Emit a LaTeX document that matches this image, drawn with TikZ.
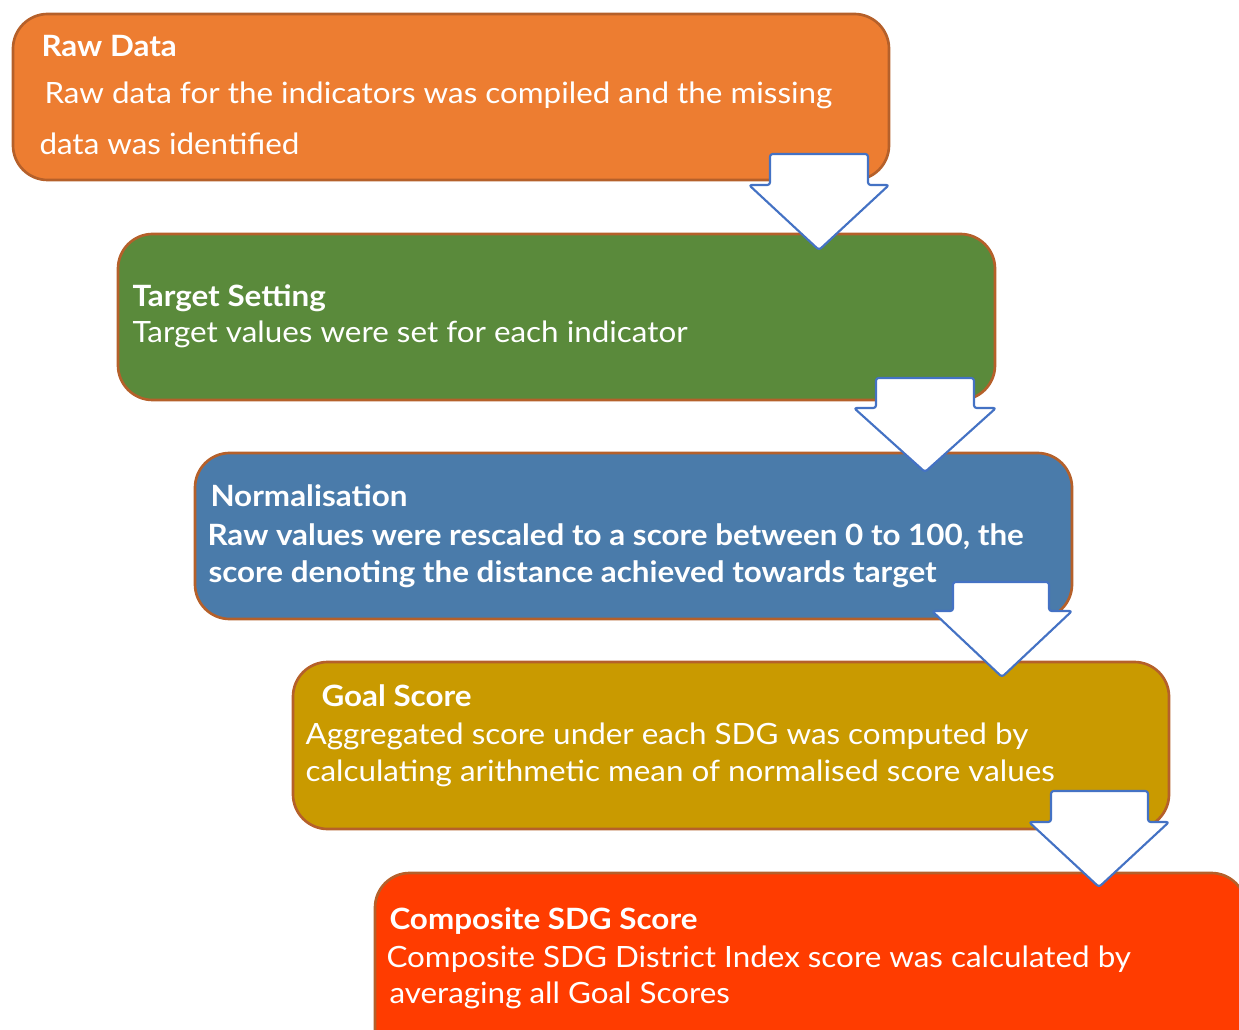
\documentclass[tikz,border=0pt]{standalone}
\usepackage{fontspec}
\setmainfont[FakeStretch=1.07]{Lato}

\definecolor{rawfill}{HTML}{ED7D31}
\definecolor{targetfill}{HTML}{5A8A3B}
\definecolor{normfill}{HTML}{4A7BAA}
\definecolor{goalfill}{HTML}{C99A00}
\definecolor{compfill}{HTML}{FF3C00}
\definecolor{boxedge}{HTML}{B5602A}
\definecolor{arrowedge}{HTML}{4472C4}

\tikzset{every picture/.style={line width=0.75pt}}
\tikzset{
  stepbox/.style={draw=boxedge, line width=2pt, rounded corners=26pt},
  downblock/.style={draw=arrowedge, fill=white, line width=1.6pt, rounded corners=2pt, line join=round},
  headtxt/.style={anchor=base west, inner sep=0pt, text=white, font=\fontsize{22}{28}\selectfont\bfseries},
  bodytxt/.style={anchor=base west, inner sep=0pt, text=white, font=\fontsize{22}{28}\selectfont},
}

\begin{document}
\begin{tikzpicture}[x=0.75pt,y=0.75pt,yscale=-1]
\useasboundingbox (0,0) rectangle (1239,1030);

%Shape: Rounded Rect [raw data]
\draw [stepbox, fill=rawfill] (13,14) rectangle (889,180);
%Shape: Rounded Rect [target setting]
\draw [stepbox, fill=targetfill] (118,234) rectangle (995,400);
%Shape: Rounded Rect [normalisation]
\draw [stepbox, fill=normfill] (195,453) rectangle (1072,619);
%Shape: Rounded Rect [goal score]
\draw [stepbox, fill=goalfill] (293,662) rectangle (1169,829);
%Shape: Rounded Rect [composite score]
\draw [stepbox, fill=compfill] (375,873) rectangle (1246,1070);

%Shape: Down Arrow
\draw [downblock] (770,154) -- (868,154) -- (868,185) -- (889,185) -- (819,250) -- (749,185) -- (770,185) -- cycle ;
%Shape: Down Arrow
\draw [downblock] (876,378) -- (974,378) -- (974,408) -- (996,408) -- (925,472) -- (854,408) -- (876,408) -- cycle ;
%Shape: Down Arrow
\draw [downblock] (953,582) -- (1049,582) -- (1049,611) -- (1072,611) -- (1002,677) -- (932,611) -- (953,611) -- cycle ;
%Shape: Down Arrow
\draw [downblock] (1051,791) -- (1148,791) -- (1148,822) -- (1169,822) -- (1099,887) -- (1029,822) -- (1051,822) -- cycle ;

% Text Node
\draw (41,57) node (rawhead) [headtxt] {Raw Data};
% Text Node
\draw (44,104) node (rawline1) [bodytxt] {Raw data for the indicators was compiled and the missing};
% Text Node
\draw (39,155) node (rawline2) [bodytxt] {data was identified};

% Text Node
\draw (132,307) node (targethead) [headtxt] {Target Setting};
% Text Node
\draw (132,343) node (targetline1) [bodytxt] {Target values were set for each indicator};

% Text Node
\draw (210,507) node (normhead) [headtxt] {Normalisation};
% Text Node
\draw (207,545) node (normline1) [headtxt] {Raw values were rescaled to a score between 0 to 100, the};
% Text Node
\draw (208,582) node (normline2) [headtxt] {score denoting the distance achieved towards target};

% Text Node
\draw (321,706) node (goalhead) [headtxt] {Goal Score};
% Text Node
\draw (305,744) node (goalline1) [bodytxt] {Aggregated score under each SDG was computed by};
% Text Node
\draw (305,781) node (goalline2) [bodytxt] {calculating arithmetic mean of normalised score values};

% Text Node
\draw (389,929) node (comphead) [headtxt] {Composite SDG Score};
% Text Node
\draw (386,967) node (compline1) [bodytxt] {Composite SDG District Index score was calculated by};
% Text Node
\draw (389,1003) node (compline2) [bodytxt] {averaging all Goal Scores};

\end{tikzpicture}
\end{document}
